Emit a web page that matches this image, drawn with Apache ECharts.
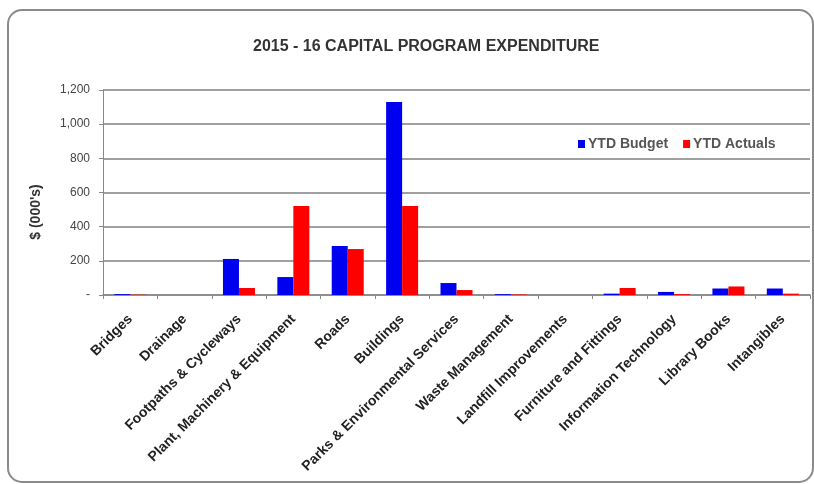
<!DOCTYPE html>
<html><head><meta charset="utf-8">
<script src="https://cdn.jsdelivr.net/npm/echarts@6/dist/echarts.min.js"></script>
<style>html,body{margin:0;padding:0;background:#fff}#c{width:814px;height:484px}</style>
</head><body><div id="c"></div>
<script>
const categories = ["Bridges","Drainage","Footpaths & Cycleways","Plant, Machinery & Equipment","Roads","Buildings","Parks & Environmental Services","Waste Management","Landfill Improvements","Furniture and Fittings","Information Technology","Library Books","Intangibles"];
const ytdBudget = [5, 0, 211, 105, 287, 1130, 70, 5, 0, 8, 18, 38, 38];
const ytdActuals = [2, 0, 41, 521, 269, 521, 29, 3, 0, 41, 5, 50, 8];
const yTicks = [0, 200, 400, 600, 800, 1000, 1200];
const fmt = v => v === 0 ? '-' : v.toLocaleString('en-US');
const chart = echarts.init(document.getElementById('c'));
const font = '"Liberation Sans", Arial, sans-serif';
chart.setOption({
  animation: false,
  textStyle: { fontFamily: font },
  title: { text: '2015 - 16 CAPITAL PROGRAM EXPENDITURE', left: 248, top: 34,
    textStyle: { fontSize: 16, fontWeight: 'bold', color: '#333', fontFamily: font } },
  graphic: [
    { type: 'rect', shape: { x: 8, y: 10, width: 805, height: 472, r: 14 },
      style: { fill: 'none', stroke: '#8a8a8a', lineWidth: 2 }, silent: true },
    { type: 'text', x: 36, y: 212, rotation: Math.PI / 2,
      style: { text: "$ (000's)", fontSize: 14, fontWeight: 'bold', fill: '#333', fontFamily: font,
        textAlign: 'center', textVerticalAlign: 'middle' } }
  ],
  legend: { data: ['YTD Budget', 'YTD Actuals'], left: 573, top: 132, itemWidth: 7, itemHeight: 8, itemGap: 15,
    icon: 'rect', textStyle: { fontSize: 14, fontWeight: 'bold', color: '#555', fontFamily: font, padding: [0,0,0,-2] } },
  grid: { left: 103, right: 4, top: 90, bottom: 189, containLabel: false },
  xAxis: { type: 'category', data: categories,
    axisLine: { lineStyle: { color: '#888', width: 1.5 } },
    axisTick: { show: true, lineStyle: { color: '#888' }, length: 4 },
    axisLabel: { rotate: 45, interval: 0, fontSize: 14, fontWeight: 'bold', color: '#222', margin: 22, fontFamily: font } },
  yAxis: { type: 'value', min: 0, max: 1200, interval: 200,
    axisLine: { show: true, lineStyle: { color: '#888' } },
    axisTick: { show: true, length: 4, lineStyle: { color: '#888' } },
    axisLabel: { formatter: v => yTicks.includes(v) ? fmt(v) : '', fontSize: 12, color: '#444', margin: 13 },
    splitLine: { lineStyle: { color: '#a0a0a0', width: 2 } } },
  series: [
    { name: 'YTD Budget', type: 'bar', data: ytdBudget, barWidth: 16, barGap: '0%', itemStyle: { color: '#0000f0' } },
    { name: 'YTD Actuals', type: 'bar', data: ytdActuals, barWidth: 16, barGap: '0%', itemStyle: { color: '#ff0000' } }
  ]
});
</script></body></html>
